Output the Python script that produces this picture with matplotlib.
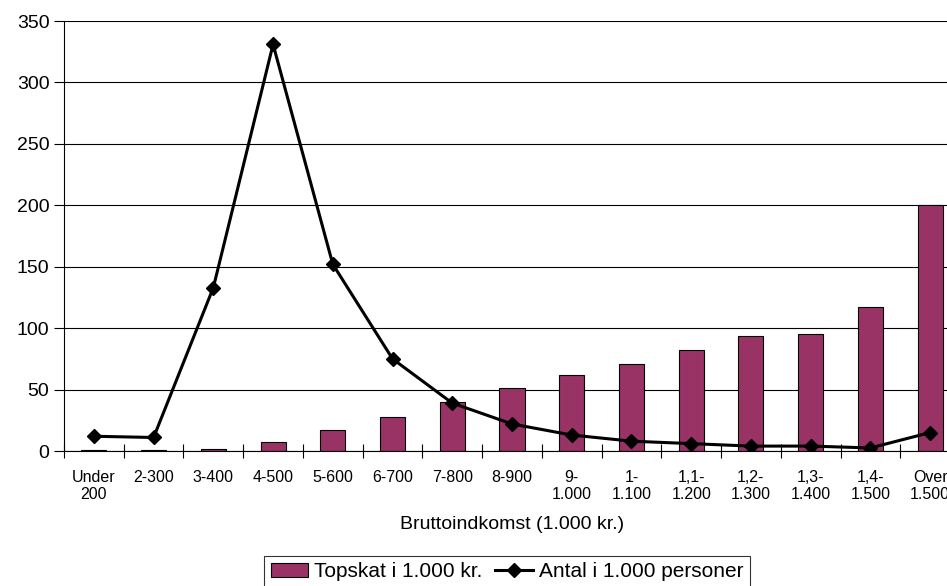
import matplotlib.pyplot as plt
from matplotlib.patches import Patch
from matplotlib.lines import Line2D

plt.rcParams['font.family'] = ['Liberation Sans', 'DejaVu Sans']

categories = ['Under\n200', '2-300', '3-400', '4-500', '5-600', '6-700', '7-800', '8-900',
              '9-\n1.000', '1-\n1.100', '1,1-\n1.200', '1,2-\n1.300', '1,3-\n1.400', '1,4-\n1.500', 'Over\n1.500']
topskat = [1, 1, 2, 7, 17, 28, 40, 51, 62, 71, 82, 94, 95, 117, 200]
antal = [12, 11, 133, 331, 152, 75, 39, 22, 13, 8, 6, 4, 4, 2.5, 15]

fig = plt.figure(figsize=(9.47, 5.86), dpi=100)
ax = fig.add_axes([64 / 947, 135 / 586, 896 / 947, 430 / 586])

x = range(len(categories))
ax.bar(x, topskat, width=0.42, color='#993366', edgecolor='black', linewidth=0.8, zorder=2)
ax.plot(x, antal, color='black', linewidth=2.2, marker='D', markersize=7, zorder=3)

ax.set_xlim(-0.5, len(categories) - 0.5)
ax.set_ylim(0, 350)
ax.set_yticks(range(0, 351, 50))
ax.tick_params(axis='y', labelsize=14, direction='out', length=7, width=0.8)
ax.set_xticks(list(x))
ax.set_xticklabels(categories, fontsize=11.5, linespacing=1.1)
ax.tick_params(axis='x', which='major', length=0, pad=14)
ax.set_xticks([k + 0.5 for k in range(-1, len(categories))], minor=True)
ax.tick_params(axis='x', which='minor', direction='inout', length=10, width=0.8)
ax.yaxis.grid(True, color='black', linewidth=0.8, zorder=0)
ax.set_axisbelow(True)
for s in ['top', 'right']:
    ax.spines[s].set_visible(False)
ax.spines['left'].set_linewidth(0.8)
ax.spines['bottom'].set_linewidth(0.8)

ax.set_xlabel('Bruttoindkomst (1.000 kr.)', fontsize=14, labelpad=10)

handles = [Patch(facecolor='#993366', edgecolor='black', linewidth=0.8),
           Line2D([0], [0], color='black', linewidth=2.2, marker='D', markersize=7)]
leg = fig.legend(handles, ['Topskat i 1.000 kr.', 'Antal i 1.000 personer'], loc='upper center',
                 bbox_to_anchor=(507 / 947, 1 - 556 / 586), ncol=2, fontsize=15, frameon=True,
                 fancybox=False, edgecolor='black', handlelength=1.8, handletextpad=0.3,
                 columnspacing=0.6, borderpad=0.3, borderaxespad=0)
leg.get_frame().set_linewidth(0.8)

fig.savefig('out.png', dpi=100)
